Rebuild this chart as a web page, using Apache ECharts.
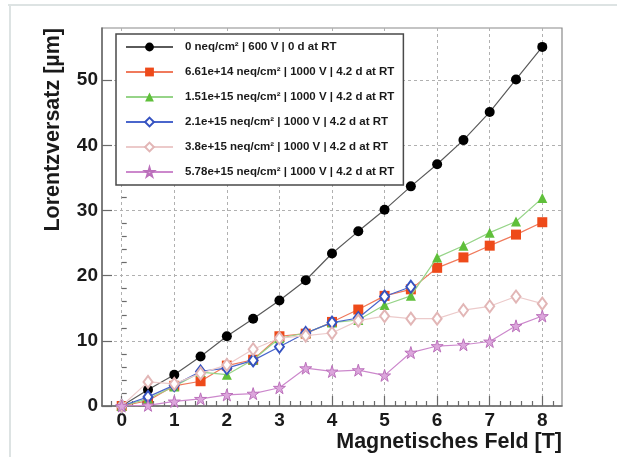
<!DOCTYPE html>
<html>
<head>
<meta charset="utf-8">
<script src="https://cdn.jsdelivr.net/npm/echarts@6/dist/echarts.min.js"></script>
<style>
  html, body { margin: 0; padding: 0; background: #ffffff; }
  #chart { width: 617px; height: 457px; }
</style>
</head>
<body>
<div id="chart"></div>
<script>
// Magnetic field values [T]
const field = [0, 0.5, 1, 1.5, 2, 2.5, 3, 3.5, 4, 4.5, 5, 5.5, 6, 6.5, 7, 7.5, 8];

// Lorentz shift [µm] for each fluence
const unirradiated = [0, 2.5, 4.8, 7.6, 10.7, 13.4, 16.2, 19.3, 23.4, 26.8, 30.1, 33.7, 37.1, 40.8, 45.1, 50.1, 55.1];
const fluence661e14 = [0, 0.8, 3.1, 3.8, 6.2, 7.1, 10.7, 11.1, 12.9, 14.8, 16.9, 17.9, 21.2, 22.8, 24.6, 26.3, 28.2];
const fluence151e15 = [0, 1.1, 3.0, 5.2, 4.8, 7.1, 10.4, 11.2, 12.8, 13.2, 15.5, 16.9, 22.8, 24.6, 26.6, 28.3, 31.9];
const fluence21e15 = [0, 1.4, 3.2, 5.3, 5.8, 7.0, 9.1, 11.2, 12.8, 13.5, 16.8, 18.3];
const fluence38e15 = [0, 3.7, 3.4, 5.0, 6.3, 8.7, 10.4, 10.8, 11.2, 13.1, 13.8, 13.4, 13.4, 14.7, 15.3, 16.8, 15.7];
const fluence578e15 = [0, 0.1, 0.7, 1.1, 1.7, 1.9, 2.8, 5.8, 5.3, 5.5, 4.7, 8.2, 9.2, 9.4, 9.9, 12.3, 13.8];

// Legend labels
const labels = [
  '0 neq/cm² | 600 V | 0 d at RT',
  '6.61e+14 neq/cm² | 1000 V | 4.2 d at RT',
  '1.51e+15 neq/cm² | 1000 V | 4.2 d at RT',
  '2.1e+15 neq/cm² | 1000 V | 4.2 d at RT',
  '3.8e+15 neq/cm² | 1000 V | 4.2 d at RT',
  '5.78e+15 neq/cm² | 1000 V | 4.2 d at RT'
];

// Axis ticks
const xMajor = [0, 1, 2, 3, 4, 5, 6, 7, 8];
const xMinor = [-0.2, 0.2, 0.4, 0.6, 0.8, 1.2, 1.4, 1.6, 1.8, 2.2, 2.4, 2.6, 2.8, 3.2, 3.4, 3.6, 3.8,
  4.2, 4.4, 4.6, 4.8, 5.2, 5.4, 5.6, 5.8, 6.2, 6.4, 6.6, 6.8, 7.2, 7.4, 7.6, 7.8, 8.2];
const yMajor = [0, 10, 20, 30, 40, 50];
const yMinor = [2, 4, 6, 8, 12, 14, 16, 18, 22, 24, 26, 28, 32, 34, 36, 38, 42, 44, 46, 48, 52, 54, 56];

const FONT = '"Liberation Sans", Arial, Helvetica, sans-serif';
const STAR = 'path://M50,0 L61,35 L98,35 L68,57 L79,91 L50,70 L21,91 L32,57 L2,35 L39,35 Z';

const pairs = ys => ys.map((v, i) => [field[i], v]);

const chart = echarts.init(document.getElementById('chart'), null, { renderer: 'canvas' });

const X_MIN = -0.375, X_MAX = 8.375, Y_MIN = 0, Y_MAX = 58;

function series(name, data, symbol, size, lineColor, itemStyle, z) {
  return {
    name, type: 'line', data: pairs(data), symbol, symbolSize: size,
    showSymbol: true, animation: false, z,
    lineStyle: { color: lineColor, width: 1.2 },
    itemStyle
  };
}

chart.setOption({
  animation: false,
  backgroundColor: '#ffffff',
  grid: { left: 102, right: 55, top: 28, bottom: 51, show: true, borderColor: '#8a8a8a', borderWidth: 1.2, backgroundColor: '#ffffff' },
  xAxis: [
    {
      type: 'value', min: X_MIN, max: X_MAX, position: 'bottom',
      axisLine: { show: true, onZero: false, lineStyle: { color: '#6a6a6a', width: 1.5 } },
      axisTick: { show: true, inside: true, length: 10, customValues: xMajor, lineStyle: { color: '#6a6a6a', width: 1.2 } },
      axisLabel: { customValues: xMajor, color: '#1a1a1a', fontFamily: FONT, fontWeight: 'bold', fontSize: 19, margin: 5 },
      splitLine: { show: true, lineStyle: { color: '#b0b0b0', type: [3, 3], width: 1 } }
    },
    {
      type: 'value', min: X_MIN, max: X_MAX, position: 'bottom', offset: 0,
      axisLine: { show: false },
      axisTick: { show: true, inside: true, length: 5, customValues: xMinor, lineStyle: { color: '#6a6a6a', width: 1.2 } },
      axisLabel: { show: false },
      splitLine: { show: false }
    }
  ],
  yAxis: [
    {
      type: 'value', min: Y_MIN, max: Y_MAX, position: 'left',
      axisLine: { show: true, onZero: false, lineStyle: { color: '#6a6a6a', width: 1.5 } },
      axisTick: { show: true, inside: true, length: 10, customValues: yMajor, lineStyle: { color: '#6a6a6a', width: 1.2 } },
      axisLabel: { customValues: yMajor, color: '#1a1a1a', fontFamily: FONT, fontWeight: 'bold', fontSize: 19, margin: 4 },
      splitLine: { show: true, lineStyle: { color: '#b0b0b0', type: [3, 3], width: 1 } }
    },
    {
      type: 'value', min: Y_MIN, max: Y_MAX, position: 'left', offset: 0,
      axisLine: { show: false },
      axisTick: { show: true, inside: true, length: 5, customValues: yMinor, lineStyle: { color: '#6a6a6a', width: 1.2 } },
      axisLabel: { show: false },
      splitLine: { show: false }
    }
  ],
  legend: {
    orient: 'vertical', left: 116, top: 34,
    padding: [7, 9, 7, 9],
    itemWidth: 47, itemHeight: 11, itemGap: 13,
    backgroundColor: '#ffffff', borderColor: '#4a4a4a', borderWidth: 1.5,
    textStyle: { fontFamily: FONT, fontWeight: 'bold', fontSize: 11.5, color: '#1a1a1a', padding: [0, 0, 0, 7] },
    data: labels
  },
  series: [
    series(labels[0], unirradiated, 'circle', 10, '#5a5a5a', { color: '#000000' }, 2),
    series(labels[1], fluence661e14, 'rect', 10, '#f07a5c', { color: '#ee4a1a' }, 3),
    series(labels[2], fluence151e15, 'triangle', 10, '#96d488', { color: '#5fbf3a' }, 4),
    series(labels[3], fluence21e15, 'emptyDiamond', [9, 12], '#4a66cc', { color: '#3552c0', borderWidth: 1.4 }, 5),
    series(labels[4], fluence38e15, 'emptyDiamond', [9, 12], '#eccaca', { color: '#e2b6b6', borderWidth: 1.4 }, 6),
    series(labels[5], fluence578e15, STAR, 12, '#cc88cc', { color: '#dca6dc', borderColor: '#bb70bb', borderWidth: 1 }, 7)
  ],
  graphic: [
    { type: 'rect', shape: { x: 8, y: 4, width: 609, height: 2 }, style: { fill: '#dde3e3' }, silent: true },
    { type: 'rect', shape: { x: 9, y: 4, width: 2, height: 453 }, style: { fill: '#dde3e3' }, silent: true },
    {
      type: 'text', left: 42, top: 28, silent: true,
      rotation: Math.PI / 2,
      style: { text: 'Lorentzversatz [µm]', font: 'bold 21.5px ' + FONT, fill: '#1a1a1a' }
    },
    {
      type: 'text', right: 55, top: 431, silent: true,
      style: { text: 'Magnetisches Feld [T]', font: 'bold 21.5px ' + FONT, fill: '#1a1a1a' }
    }
  ]
});
</script>
</body>
</html>
